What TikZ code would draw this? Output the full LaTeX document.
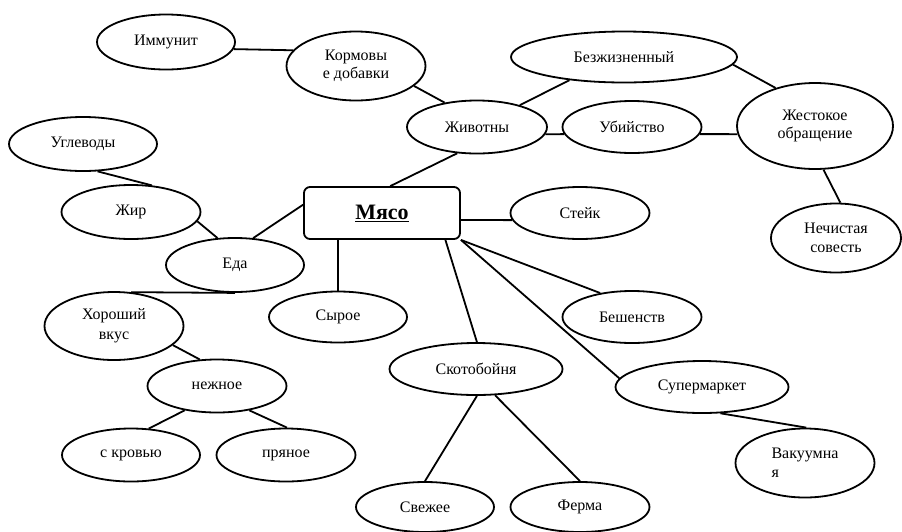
\documentclass[tikz,border=0pt]{standalone}
\usepackage{fontspec}
\setmainfont{Liberation Serif}
\usetikzlibrary{shapes.geometric}
\begin{document}
\begin{tikzpicture}[x=1pt,y=-1pt,
  el/.style={ellipse,draw,line width=1.8pt,inner sep=0pt,font=\fontsize{16}{18.5}\selectfont,align=center},
  ln/.style={line width=1.8pt},
  mainbox/.style={rectangle,draw,line width=1.8pt,rounded corners=6pt,inner sep=0pt,font=\fontsize{22}{24}\selectfont\bfseries}]
\useasboundingbox (0,0) rectangle (902,531);
% nodes
\node[el,minimum width=138pt,minimum height=55pt] (imm) at (166,42) {Иммунит};
\node[el,minimum width=139pt,minimum height=69pt] (kor) at (356,66) {Кормовы\\е добавки};
\node[el,minimum width=148pt,minimum height=54pt] (ugl) at (83,144) {Углеводы};
\node[el,minimum width=139pt,minimum height=54pt] (zhir) at (131,212) {Жир};
\node[el,minimum width=138pt,minimum height=54pt] (eda) at (235,265) {Еда};
\node[mainbox,minimum width=156pt,minimum height=52pt] (myaso) at (382,213) {\underline{Мясо}};
\node[el,minimum width=140pt,minimum height=53pt] (zhiv) at (477,127) {Животны};
\node[el,minimum width=226pt,minimum height=51pt] (bez) at (624,57) {Безжизненный};
\node[el,minimum width=139pt,minimum height=52pt] (ubi) at (632,127) {Убийство};
\node[el,minimum width=156pt,minimum height=86pt] (zhest) at (815,126) {Жестокое\\обращение};
\node[el,minimum width=130pt,minimum height=69pt] (nech) at (836,238) {Нечистая\\совесть};
\node[el,minimum width=139pt,minimum height=52pt] (steik) at (580,213) {Стейк};
\node[el,minimum width=138pt,minimum height=51pt] (syr) at (338,317) {Сырое};
\node[el,minimum width=139pt,minimum height=68pt,font=\fontsize{16}{20}\selectfont] (khor) at (114,326) {Хороший\\вкус};
\node[el,minimum width=139pt,minimum height=53pt] (nezh) at (217,386) {нежное};
\node[el,minimum width=138pt,minimum height=53pt] (skrov) at (131,455) {с кровью};
\node[el,minimum width=139pt,minimum height=53pt] (pryan) at (286,455) {пряное};
\node[el,minimum width=173pt,minimum height=52pt] (skot) at (476,369) {Скотобойня};
\node[el,minimum width=138pt,minimum height=50pt] (svezh) at (425,507) {Свежее};
\node[el,minimum width=139pt,minimum height=50pt] (ferma) at (580,507) {Ферма};
\node[el,minimum width=139pt,minimum height=52pt] (besh) at (632,317) {Бешенств};
\node[el,minimum width=173pt,minimum height=52pt] (super) at (702,387) {Супермаркет};
\node[el,minimum width=139pt,minimum height=69pt,align=left] (vak) at (805,463) {Вакуумна\\я};
% connectors
\draw[ln] (imm.-6) -- (kor.166);
\draw[ln] (kor.-19) -- (zhiv.143);
\draw[ln] (ugl.-62) -- (zhir.52);
\draw[ln] (zhir.-8) -- (eda.123);
\draw[ln] (eda.56) -- (myaso.174);
\draw[ln] (myaso.73) -- (zhiv.233);
\draw[ln] (zhiv.27) -- (bez.203);
\draw[ln] (zhiv.-6.5) -- (ubi.186.6);
\draw[ln] (ubi.-6.5) -- (zhest.186.6);
\draw[ln] (bez.-4.6) -- (zhest.136);
\draw[ln] (zhest.-79.5) -- (nech.83);
\draw[ln] (myaso.-5.9) -- (steik.186.6);
\draw[ln] (syr.north) -- (syr.north |- myaso.south);
\draw[ln] (khor.63) -- (eda.south);
\draw[ln] (khor.-18) -- (nezh.123);
\draw[ln] (nezh.217) -- (skrov.56);
\draw[ln] (nezh.-37) -- (pryan.88);
\draw[ln] (myaso.-23.1) -- (skot.88);
\draw[ln] (skot.-88) -- (svezh.north);
\draw[ln] (skot.-54) -- (ferma.north);
\draw[ln] (myaso.south east) -- (besh.143);
\draw[ln] (myaso.south east) -- (super.174);
\draw[ln] (super.-55) -- (vak.88);
\end{tikzpicture}
\end{document}
